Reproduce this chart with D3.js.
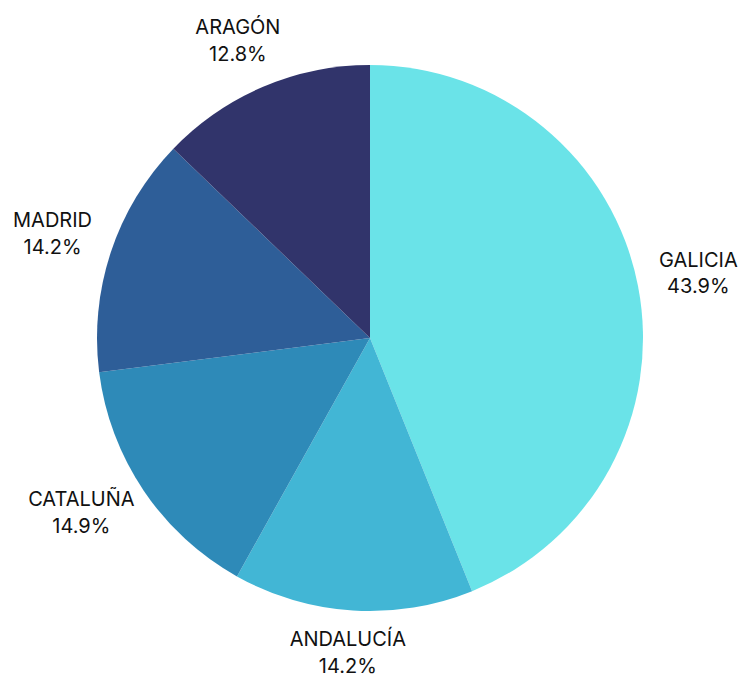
<!DOCTYPE html>
<html>
<head>
<meta charset="utf-8">
<script src="https://cdn.jsdelivr.net/npm/d3@7"></script>
<style>
	body { margin: 0; background: #fff; }
	text { font-family: Inter, "Noto Sans", sans-serif; font-size: 20px; fill: #111; }
</style>
</head>
<body>
<div id="chart"></div>
<script>
// our data
const regions = ['GALICIA', 'ANDALUCÍA', 'CATALUÑA', 'MADRID', 'ARAGÓN']
const shares = [43.9, 14.2, 14.9, 14.2, 12.8]
const colours = ['#6ae3e8', '#42b6d5', '#2e8ab8', '#2e5e98', '#31346b']

const width = 739
const height = 675
const radius = 273
const cx = 370
const cy = 338
const labelRadiusX = 295 // plus half the label width
const labelRadiusY = 319
const lineGap = 26.5

const pie = d3.pie()
	.sort(null)
	.value(d => d.value)

const data = pie(regions.map((name, i) => ({name, value: shares[i]})))

const color = d3.scaleOrdinal()
	.domain(regions)
	.range(colours)

const $svg = d3.select('#chart')
	.append('svg')
	.attr('width', width)
	.attr('height', height)

const $g = $svg.append('g')
	.attr('transform', `translate(${cx}, ${cy})`)

$g.selectAll('path')
	.data(data)
	.join('path')
	.attr('d', d3.arc().innerRadius(0).outerRadius(radius))
	.attr('fill', d => color(d.data.name))

// labels: two lines, box pushed out along the mid angle
const $labels = $g.selectAll('.label')
	.data(data)
	.join('text')
	.attr('class', 'label')
	.attr('text-anchor', 'middle')

$labels.append('tspan')
	.attr('x', 0)
	.attr('y', -lineGap / 2 + 3)
	.text(d => d.data.name)

$labels.append('tspan')
	.attr('x', 0)
	.attr('y', lineGap / 2 + 3)
	.text(d => d.data.value.toFixed(1) + '%')

$labels.each(function(d) {
	const a = (d.startAngle + d.endAngle) / 2
	const sx = Math.sin(a), sy = -Math.cos(a)
	const w = this.getBBox().width
	const x = sx * (labelRadiusX + w / 2)
	const y = sy * labelRadiusY
	d3.select(this).attr('transform', `translate(${x}, ${y})`)
})
</script>
</body>
</html>
